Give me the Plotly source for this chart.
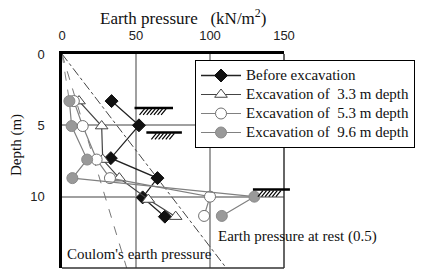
import plotly.graph_objects as go

# ---------------- data ----------------
depth_before = [3.3, 5.0, 7.3, 8.7, 10.05, 11.4]
press_before = [33.5, 52.0, 33.0, 64.5, 54.5, 69.5]

depth_33 = [3.3, 5.05, 7.4, 8.7, 10.2, 11.4]
press_33 = [11.5, 26.8, 27.5, 38.7, 58.3, 76.8]

depth_53 = [3.3, 5.05, 7.4, 8.7, 10.0, 11.35]
press_53 = [8.0, 14.0, 23.4, 32.4, 100.0, 96.0]

depth_96 = [3.3, 5.05, 7.4, 8.7, 10.0, 11.35]
press_96 = [5.0, 6.5, 17.0, 7.0, 130.0, 108.0]

# dashed segment from surface to first 9.6 m point
depth_96_top = [0.0, 3.3]
press_96_top = [0.0, 5.0]

coulomb_depth = [0.0, 15.0]
coulomb_press = [0.0, 43.7]

rest_depth = [0.0, 15.0]
rest_press = [0.0, 111.0]

x_ticks = [0, 50, 100, 150]
y_ticks = [0, 5, 10, 15]

series_names = ["Before excavation", "Excavation of  3.3 m depth",
                "Excavation of  5.3 m depth", "Excavation of  9.6 m depth"]

# excavation level markers (depth, x start, x end)
levels = [(3.78, 49.0, 75.0), (5.5, 57.0, 81.0), (9.5, 129.0, 154.0)]

# ---------------- figure ----------------
W, H = 427, 271
ML, MR, MT, MB = 62, 143, 54, 3
PW, PH = W - ML - MR, H - MT - MB

def px2paper(px, py):
    return (px - ML) / PW, (H - MB - py) / PH

def leg(name):
    return "<span style='font-size:15px'>" + name + "</span>"

fig = go.Figure()

fig.add_trace(go.Scatter(x=coulomb_press, y=coulomb_depth, mode="lines",
                         line=dict(color="#777777", width=1, dash="dash"),
                         showlegend=False, hoverinfo="skip"))
fig.add_trace(go.Scatter(x=press_96_top, y=depth_96_top, mode="lines",
                         line=dict(color="#888888", width=1, dash="dash"),
                         showlegend=False, hoverinfo="skip"))
fig.add_trace(go.Scatter(x=rest_press, y=rest_depth, mode="lines",
                         line=dict(color="#444444", width=1, dash="dashdot"),
                         showlegend=False, hoverinfo="skip"))

fig.add_trace(go.Scatter(x=press_before, y=depth_before, mode="lines+markers",
                         name=leg(series_names[0]),
                         line=dict(color="#222222", width=1.3),
                         marker=dict(symbol="diamond", size=10, color="#111111",
                                     line=dict(color="#111111", width=1))))
fig.add_trace(go.Scatter(x=press_33, y=depth_33, mode="lines+markers",
                         name=leg(series_names[1]),
                         line=dict(color="#444444", width=1.2),
                         marker=dict(symbol="triangle-up", size=11, color="white",
                                     line=dict(color="#444444", width=1))))
fig.add_trace(go.Scatter(x=press_53, y=depth_53, mode="lines+markers",
                         name=leg(series_names[2]),
                         line=dict(color="#808080", width=1.2),
                         marker=dict(symbol="circle", size=11, color="white",
                                     line=dict(color="#707070", width=1))))
fig.add_trace(go.Scatter(x=press_96, y=depth_96, mode="lines+markers",
                         name=leg(series_names[3]),
                         line=dict(color="#808080", width=1.2),
                         marker=dict(symbol="circle", size=11, color="#999999",
                                     line=dict(color="#8a8a8a", width=1))))

shapes = []
# right & bottom frame
shapes.append(dict(type="line", xref="paper", yref="paper", x0=1, x1=1, y0=0, y1=1,
                   line=dict(color="#333333", width=1.5)))
shapes.append(dict(type="line", xref="paper", yref="paper", x0=0, x1=1, y0=0, y1=0,
                   line=dict(color="#333333", width=1.5)))

# excavation level hatch symbols
for d, xa, xb in levels:
    pxa = ML + xa / 150 * PW
    pxb = ML + xb / 150 * PW
    py = MT + d / 15 * PH
    x0, y0 = px2paper(pxa, py)
    x1, _ = px2paper(pxb, py)
    shapes.append(dict(type="line", xref="paper", yref="paper", x0=x0, x1=x1, y0=y0, y1=y0,
                       line=dict(color="black", width=2.5)))
    hx = pxa + 5
    while hx + 5 <= pxb - 6:
        a = px2paper(hx, py + 7)
        b = px2paper(hx + 5, py + 1)
        shapes.append(dict(type="line", xref="paper", yref="paper",
                           x0=a[0], y0=a[1], x1=b[0], y1=b[1],
                           line=dict(color="black", width=1.2)))
        hx += 3.6

serif = "Liberation Serif, Times New Roman, serif"
sans = "Liberation Sans, Arial, sans-serif"

def ann(text, px, py, size, angle=0):
    tx, ty = px2paper(px, py)
    return dict(text=text, x=tx, y=ty, xref="paper", yref="paper", showarrow=False,
                xanchor="center", yanchor="middle", textangle=angle,
                font=dict(family=serif, size=size, color="#111111"))

annotations = [
    ann("Earth pressure   (kN/m<sup>2</sup>)", 183, 17, 17),
    ann("Depth (m)", 16, 145, 15, -90),
    ann("Coulom's earth pressure", 139, 254, 15),
    ann("Earth pressure at rest (0.5)", 297, 236, 15),
]

lx, ly = px2paper(195, 60)

fig.update_layout(
    width=W, height=H,
    margin=dict(l=ML, r=MR, t=MT, b=MB, autoexpand=False),
    paper_bgcolor="white", plot_bgcolor="white",
    shapes=shapes, annotations=annotations,
    legend=dict(x=lx, y=ly, xanchor="left", yanchor="top",
                bgcolor="white", bordercolor="black", borderwidth=1,
                font=dict(family=serif, size=11, color="#111111"),
                tracegroupgap=0, itemwidth=40),
    xaxis=dict(side="top", range=[0, 150], tickvals=x_ticks,
               showgrid=True, gridcolor="#a0a0a0", gridwidth=1.5,
               showline=True, linecolor="black", linewidth=2.5,
               zeroline=False, ticks="", ticklabelstandoff=6,
               tickfont=dict(family=sans, size=13, color="#222222")),
    yaxis=dict(range=[15, 0], tickvals=y_ticks,
               showgrid=True, gridcolor="#a0a0a0", gridwidth=1.5,
               showline=True, linecolor="black", linewidth=2.5,
               zeroline=False, ticks="", ticklabelstandoff=12,
               tickfont=dict(family=sans, size=13, color="#222222")),
)

fig.write_html("out.html", config={"displayModeBar": False},
               post_script="document.body.style.margin='0px';document.body.style.overflow='hidden';")
